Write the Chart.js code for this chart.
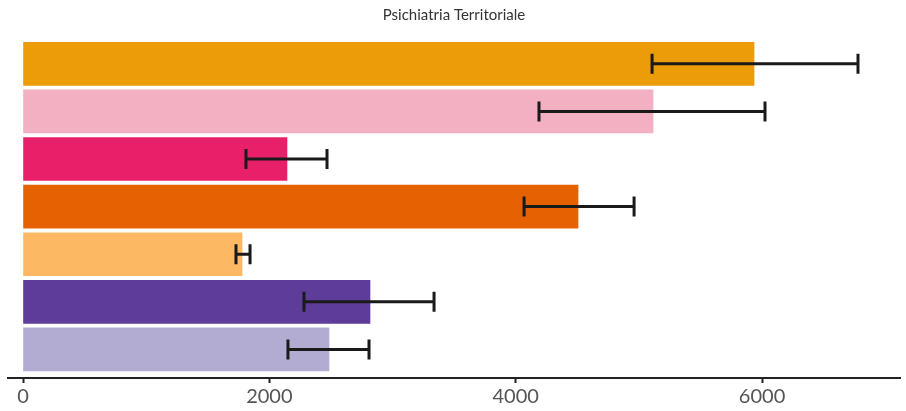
<!DOCTYPE html>
<html>
<head>
<meta charset="utf-8">
<script src="https://cdn.jsdelivr.net/npm/chart.js@4/dist/chart.umd.min.js"></script>
<style>
  html, body { margin: 0; padding: 0; background: #fff; }
  #wrap { width: 906px; height: 411px; }
</style>
</head>
<body>
<div id="wrap"><canvas id="chart"></canvas></div>
<script>
// data
const categories = ['A', 'B', 'C', 'D', 'E', 'F', 'G'];
const means = [5935, 5115, 2143, 4506, 1778, 2817, 2484];
const errLow = [5107, 4189, 1810, 4068, 1729, 2281, 2151];
const errHigh = [6779, 6024, 2468, 4961, 1843, 3337, 2809];
const colors = ['#EC9C08', '#F4B0C3', '#E8206A', '#E66101', '#FDB863', '#5E3C99', '#B2ABD2'];
const xTicks = [0, 2000, 4000, 6000];

const errorBars = {
    id: 'errorBars',
    afterDatasetsDraw(chart) {
        const ctx = chart.ctx;
        const xs = chart.scales.x;
        const ys = chart.scales.y;
        ctx.save();
        ctx.strokeStyle = '#1a1a1a';
        ctx.lineWidth = 3;
        categories.forEach((c, i) => {
            const y = ys.getPixelForValue(i);
            const x0 = xs.getPixelForValue(errLow[i]);
            const x1 = xs.getPixelForValue(errHigh[i]);
            ctx.beginPath();
            ctx.moveTo(x0, y);
            ctx.lineTo(x1, y);
            ctx.moveTo(x0, y - 10);
            ctx.lineTo(x0, y + 10);
            ctx.moveTo(x1, y - 10);
            ctx.lineTo(x1, y + 10);
            ctx.stroke();
        });
        ctx.restore();
    }
};

new Chart(document.getElementById('chart'), {
    type: 'bar',
    data: {
        datasets: [{
            data: means.map((v, i) => ({x: v, y: i})),
            backgroundColor: colors,
            borderWidth: 0,
            barThickness: 43
        }]
    },
    options: {
        indexAxis: 'y',
        responsive: true,
        maintainAspectRatio: false,
        animation: false,
        layout: {padding: {left: 8, right: 6, top: 0, bottom: 0}},
        plugins: {
            legend: {display: false},
            tooltip: {enabled: false},
            title: {
                display: true,
                text: 'Psichiatria Territoriale',
                color: '#333',
                font: {family: 'Lato', size: 15, weight: 'normal'},
                padding: {top: 6, bottom: 16}
            }
        },
        scales: {
            y: {
                type: 'linear',
                reverse: true,
                offset: false,
                min: -0.5,
                max: 6.6,
                display: false
            },
            x: {
                type: 'linear',
                min: -122,
                max: 7120,
                afterBuildTicks(scale) {
                    scale.ticks = xTicks.map(v => ({value: v}));
                },
                grid: {
                    drawOnChartArea: false,
                    tickLength: 5,
                    tickWidth: 2,
                    tickColor: '#222'
                },
                border: {color: '#222', width: 2},
                ticks: {
                    color: '#555',
                    padding: 2,
                    font: {family: 'Lato', size: 20},
                    callback: v => String(v)
                }
            }
        }
    },
    plugins: [errorBars]
});
</script>
</body>
</html>
